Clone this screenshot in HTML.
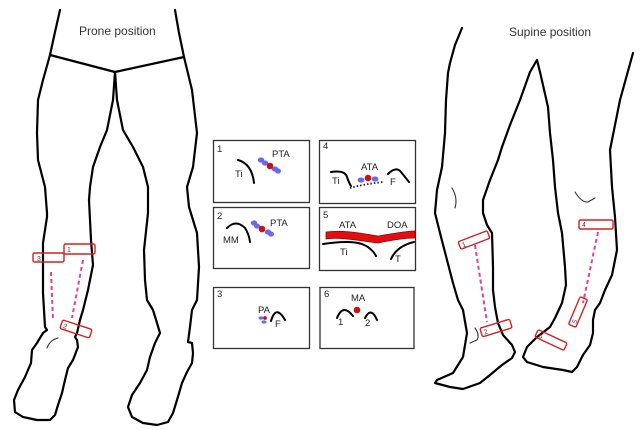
<!DOCTYPE html>
<html><head><meta charset="utf-8"><style>
html,body{margin:0;padding:0;background:#fff;}
svg{display:block;}
text{font-family:"Liberation Sans",Arial,sans-serif;fill:#222;}
</style></head><body>
<svg width="644" height="430" viewBox="0 0 644 430" xmlns="http://www.w3.org/2000/svg">
<rect width="644" height="430" fill="#fff"/>
<g fill="none" stroke="#000" stroke-width="2.2" stroke-linejoin="round" stroke-linecap="round">
<!-- Prone: left leg -->
<polyline points="60,10 55,32 50,55 43,80 38,100 37,133 38,160 45,187 47,213 47,217 43,243 43,293 45,327 47,330 43,333 37,343 32,350 31,363 25,377 18,390 14,400 15,412 23,417 37,420 50,420 55,415 58,405 62,393 65,380 68,368 73,360 78,347 77,340 75,337 77,333 80,320 83,310 88,290 93,265 91,240 89,200 90,187 93,167 100,147 107,130 113,100 115,72"/>
<polyline points="175,10 179,33 184,57"/>
<polyline points="50,55 115,72 184,57"/>
<!-- Prone: right leg -->
<polyline points="115,72 117,100 123,130 133,147 143,167 148,187 148,213 144,250 145,280 147,300 153,310 157,323 160,333 155,343 150,357 147,370 140,383 132,395 128,407 132,417 143,423 157,425 168,422 173,413 177,400 182,383 187,372 192,363 193,353 192,343 188,342 190,327 192,310 197,300 199,267 197,233 189,207 187,187 193,167 197,133 192,90 184,57"/>
<!-- Supine -->
<polyline points="462,28 455,45 450,63 448,73 446,100 445,133 442,167 437,190 435,213 440,233 447,260 453,283 458,300 463,310 467,333 463,357 453,373 437,380 435,383 450,387 463,389 480,383 490,375 502,365 512,358 515,352 512,345 503,335 498,323 495,307 493,290 493,267 492,233 487,225 483,213 483,200 490,180 498,160 502,147 510,125 520,100 530,72 537,60 540,72 548,107 550,133 553,160 555,187 558,213 562,233 565,267 566,285 562,303 555,318 550,327 537,337 527,347 523,357 527,362 543,367 563,370 572,372 577,367 583,355 590,345 593,333 593,320 595,310 600,303 605,290 612,275 617,250 615,217 612,187 610,150 620,100 633,53"/>
</g>
<g fill="none" stroke="#333" stroke-width="1.1" stroke-linecap="round">
<path d="M47,348 Q50,340 58,338"/>
<path d="M452,188 Q458,198 455,208"/>
<path d="M575,192 Q582,203 588,202 L595,198"/>
<path d="M475,328 Q480,335 477,340 L470,343"/>
</g>
<!-- dashed lines -->
<g stroke="#e0409a" stroke-width="2" stroke-dasharray="4 3" fill="none">
<line x1="51" y1="272" x2="53" y2="320"/>
<line x1="83" y1="260" x2="72" y2="318"/>
<line x1="475" y1="245" x2="487" y2="322"/>
<line x1="598" y1="232" x2="583" y2="303"/>
</g>
<!-- red boxes -->
<g fill="none" stroke="#d42020" stroke-width="1.4">
<rect x="64" y="244" width="31" height="10" rx="1.5"/>
<rect x="33" y="253" width="31" height="9" rx="1.5"/>
<rect x="-15.5" y="-4.5" width="31" height="9" rx="1.5" transform="translate(76,329) rotate(18)"/>
<rect x="-15.5" y="-4" width="31" height="8" rx="1.5" transform="translate(474,240) rotate(-21)"/>
<rect x="-15.5" y="-4.5" width="31" height="9" rx="1.5" transform="translate(496,328) rotate(-17)"/>
<rect x="579" y="220" width="34" height="9" rx="1.5"/>
<rect x="-15" y="-4" width="30" height="8" rx="1.5" transform="translate(578,312) rotate(-67)"/>
<rect x="-16" y="-4" width="32" height="8" rx="1.5" transform="translate(551,340) rotate(25)"/>
</g>
<g font-size="7" style="fill:#444">
<text x="67" y="252" style="fill:#444">1</text>
<text x="37" y="261" style="fill:#444">3</text>
<text x="-13" y="3" transform="translate(76,329) rotate(18)" style="fill:#444">2</text>
<text x="-13" y="3" transform="translate(474,240) rotate(-21)" style="fill:#444">1</text>
<text x="-13" y="3" transform="translate(496,328) rotate(-17)" style="fill:#444">2</text>
<text x="582" y="227" style="fill:#444">4</text>
<text x="-12" y="3" transform="translate(578,312) rotate(-67)" style="fill:#444">5</text>
<text x="-13" y="3" transform="translate(551,340) rotate(25)" style="fill:#444">6</text>
</g>
<!-- titles -->
<text x="79" y="35" font-size="12" style="fill:#333">Prone position</text>
<text x="509" y="36" font-size="12" style="fill:#333">Supine position</text>
<!-- center panels -->
<g fill="#fff" stroke="#333" stroke-width="1.3">
<rect x="213.5" y="140.5" width="96" height="62"/>
<rect x="319.5" y="140.5" width="96" height="63"/>
<rect x="213.5" y="207.5" width="96" height="61"/>
<rect x="319.5" y="207.5" width="96" height="63"/>
<rect x="213.5" y="287.5" width="96" height="61"/>
<rect x="320" y="287.5" width="94" height="61"/>
</g>
<!-- red band box5 -->
<path d="M326,232 C340,230 355,232 378,236 C392,234 405,231 415,231 L415,238 C405,238 392,240 378,243 C355,240 340,237 326,239 Z" fill="#e01010" stroke="#a00000" stroke-width="0.8"/>
<g fill="none" stroke="#000" stroke-width="2" stroke-linecap="round">
<path d="M238,160 Q252,164 254,183"/>
<path d="M227,228 Q236,219 245,228 Q249,234 250,242"/>
<path d="M331,172 Q345,170 347,177 Q349,183 351,186"/>
<path d="M388,174 Q396,166 401,172 Q405,177 409,182"/>
<path d="M323,244 Q350,240 362,244 Q372,248 376,256"/>
<path d="M391,259 Q397,246 414,242"/>
<path d="M271,321 Q276,304 285,320"/>
<path d="M337,318 Q343,303 353,316"/>
<path d="M365,318 Q371,306 377,320"/>
</g>
<path d="M350,188 Q365,184 383,182" fill="none" stroke="#222" stroke-width="1.8" stroke-dasharray="1.5 2"/>
<g fill="#6a6ae6">
<ellipse cx="261" cy="160" rx="3.2" ry="2.6"/><ellipse cx="265" cy="163" rx="3.2" ry="2.6"/>
<ellipse cx="275" cy="169" rx="3.2" ry="2.6"/><ellipse cx="278" cy="171" rx="3" ry="2.6"/>
<ellipse cx="254" cy="223" rx="3.2" ry="2.6"/><ellipse cx="257" cy="226" rx="3" ry="2.6"/>
<ellipse cx="268" cy="232" rx="3.2" ry="2.6"/><ellipse cx="271" cy="234" rx="3" ry="2.6"/>
<ellipse cx="361" cy="180" rx="3.4" ry="2.6"/><ellipse cx="375" cy="179" rx="3.4" ry="2.6"/>
<ellipse cx="261" cy="318" rx="2.4" ry="1.6"/><ellipse cx="264" cy="322" rx="2.4" ry="1.6"/>
</g>
<g fill="#cc1111">
<circle cx="270" cy="166" r="3.3"/>
<circle cx="262" cy="229" r="3.3"/>
<circle cx="368" cy="178" r="3.3"/>
<circle cx="265" cy="318" r="1.9"/>
<circle cx="357" cy="310" r="3.3"/>
</g>
<g font-size="9.5">
<text x="217" y="152">1</text><text x="272" y="157">PTA</text><text x="235" y="177">Ti</text>
<text x="323" y="149">4</text><text x="361" y="170">ATA</text><text x="332" y="184">Ti</text><text x="390" y="185">F</text>
<text x="217" y="219">2</text><text x="270" y="226">PTA</text><text x="223" y="243">MM</text>
<text x="323" y="218">5</text><text x="339" y="228">ATA</text><text x="387" y="228">DOA</text><text x="340" y="255">Ti</text><text x="395" y="262">T</text>
<text x="217" y="297">3</text><text x="258" y="313">PA</text><text x="275" y="327">F</text>
<text x="324" y="297">6</text><text x="351" y="301">MA</text><text x="338" y="325">1</text><text x="365" y="326">2</text>
</g>
</svg>
</body></html>
